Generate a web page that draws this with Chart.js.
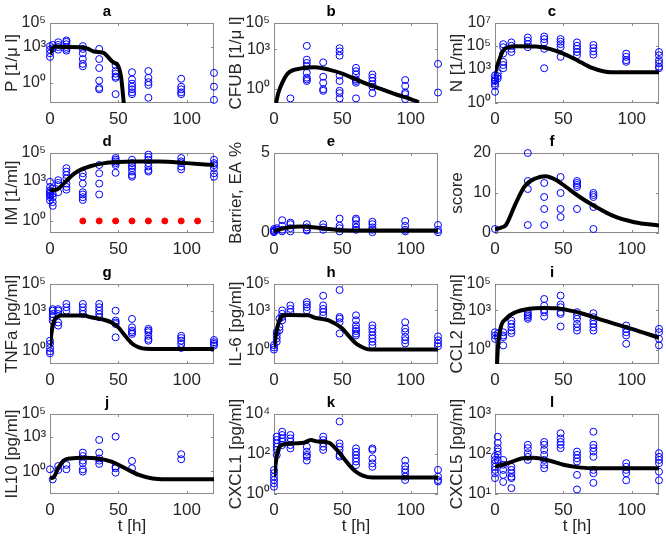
<!DOCTYPE html>
<html>
<head>
<meta charset="utf-8">
<script src="https://cdn.jsdelivr.net/npm/chart.js@4.4.1/dist/chart.umd.min.js"></script>
<style>
  html, body { margin: 0; padding: 0; background: #fff; }
  #fig { position: relative; width: 666px; height: 543px; overflow: hidden; }
  #fig canvas { position: absolute; }
</style>
</head>
<body>
<div id="fig"></div>
<script>
// x axis (time, hours) tick labels shared by all panels
const T_TICKS = [0, 50, 100];

// ---- a: P [1/ul] ----
const aObs = [[0,1200],[0,600],[0,300],[0,150],[2,1500],[2,800],[6,2500],[6,1500],[6,1000],[6,600],
  [12,3500],[12,2700],[12,1700],[12,1000],[12,700],[12,500],[24,1200],[24,700],[24,300],[24,100],[24,40],[24,25],
  [36,700],[36,100],[36,18],[36,1.6],[36,0.4],[36,0.3],[48,30],[48,10],[48,6],[48,3.5],[48,2.7],[48,0.12],
  [60,8],[60,2],[60,0.9],[60,0.5],[60,0.3],[60,0.17],[60,0.12],[72,10],[72,2.7],[72,1.2],[72,0.7],[72,0.06],
  [96,2.3],[96,0.5],[96,0.3],[96,0.17],[96,0.12],[120,7],[120,0.5],[120,0.04]];
const aT   = [0, 2, 4, 10, 24, 28, 32, 38, 40, 46, 50, 52, 53, 54];
const aFit = [250, 800, 1100, 1000, 930, 700, 420, 350, 280, 56, 25, 3.2, 0.32, 0.02];

// ---- b: CFUB [1/ul] ----
const bObs = [[12,0.18],[24,1800],[24,160],[24,90],[24,50],[24,16],[24,6.8],[24,5],[24,3.8],
  [36,100],[36,8],[36,2.8],[36,0.9],[36,0.68],[48,1200],[48,680],[48,320],[48,10],[48,3.8],[48,0.68],[48,0.45],[48,0.18],
  [60,38],[60,21],[60,12],[60,5],[60,3.8],[60,2.8],[60,0.18],[72,12],[72,6.8],[72,3.8],[72,2.1],[72,1.4],[72,0.45],
  [96,4.5],[96,1.6],[96,0.5],[96,0.38],[96,0.16],[120,76],[120,0.5]];
const bT   = [1.5, 3, 5, 10, 20, 30, 40, 50, 60, 70, 80, 90, 100, 106];
const bFit = [0.08, 0.4, 1.6, 14, 35, 43, 28, 14, 5, 1.9, 0.8, 0.34, 0.16, 0.09];

// ---- c: N [1/ml] ----
const cObs = [[0,260],[0,160],[0,100],[0,83],[0,49],[0,32],[0,9.5],[2,420],[2,220],[2,140],
  [6,1.4e5],[6,7.6e4],[6,2.1e4],[6,4000],[6,2100],[6,1100],[12,2e5],[12,1e5],[12,5.5e4],[12,2.9e4],
  [24,5.4e5],[24,2.8e5],[24,1.4e5],[24,7.6e4],[36,6.5e5],[36,3.9e5],[36,2e5],[36,5.5e4],[36,1100],
  [48,3.9e5],[48,2.3e5],[48,1.4e5],[48,7.6e4],[48,1.1e4],[60,2e5],[60,1e5],[60,5.5e4],[60,2.9e4],[60,1.5e4],
  [72,1.2e5],[72,6.3e4],[72,3.2e4],[72,1.7e4],[96,2.1e4],[96,1.1e4],[96,5600],[96,4000],
  [120,2.9e4],[120,1.5e4],[120,5600],[120,3000],[120,1500],[120,1100]];
const cT   = [0, 3, 6, 10, 15, 30, 40, 50, 60, 70, 80, 90, 120];
const cFit = [420, 5600, 4e4, 7.6e4, 9.3e4, 8.7e4, 5.5e4, 2.1e4, 5600, 1300, 580, 480, 480];

// ---- d: IM [1/ml] ----
const dObs = [[0,760],[0,320],[0,180],[0,130],[0,100],[0,76],[0,56],[0,32],[2,240],[2,100],[2,56],[2,24],[2,13],
  [6,1000],[6,630],[6,430],[6,130],[12,7600],[12,4300],[12,2400],[12,1300],[12,560],[12,320],[12,200],
  [24,3200],[24,1800],[24,560],[24,130],[24,89],[24,56],[24,35],[36,1.3e4],[36,3200],[36,560],[36,89],
  [48,4.3e4],[48,3.2e4],[48,2.4e4],[48,1.8e4],[48,1.3e4],[48,3500],[60,3.2e4],[60,1.8e4],[60,1.1e4],[60,7600],[60,4300],[60,2400],[60,1800],
  [72,7.6e4],[72,5e4],[72,3.2e4],[72,1.8e4],[72,1e4],[72,5600],[72,4300],[96,4.3e4],[96,2.4e4],[96,1.8e4],[96,1e4],[96,6300],
  [120,3.2e4],[120,1.8e4],[120,1.3e4],[120,7600],[120,3200],[120,1800]];
const dT   = [0, 5, 10, 15, 20, 30, 40, 50, 60, 80, 100, 120];
const dFit = [180, 200, 560, 1800, 4300, 1.1e4, 1.8e4, 2.2e4, 2.4e4, 2.4e4, 1.8e4, 1.3e4];
const dMarkT = [24, 36, 48, 60, 72, 84, 96, 108];
const dMarkV = [1, 1, 1, 1, 1, 1, 1, 1];

// ---- e: Barrier, EA % ----
const eObs = [[0,0.25],[0,0.15],[0,0.1],[0,0.05],[2,0.3],[2,0.2],[6,0.8],[6,0.45],[6,0.2],[6,0.1],
  [12,0.65],[12,0.55],[12,0.3],[12,0.1],[24,0.55],[24,0.35],[24,0.2],[24,0.15],[36,0.55],[36,0.35],[36,0.2],
  [48,0.9],[48,0.45],[48,0.3],[48,0.1],[60,0.9],[60,0.8],[60,0.55],[60,0.35],[60,0.2],
  [72,0.7],[72,0.55],[72,0.35],[72,0.2],[72,0.05],[96,0.75],[96,0.45],[96,0.2],[96,0.1],[120,0.5],[120,0.2],[120,0.05]];
const eT   = [0, 5, 10, 20, 30, 40, 50, 60, 120];
const eFit = [0.1, 0.25, 0.35, 0.4, 0.35, 0.25, 0.17, 0.15, 0.15];

// ---- f: score ----
const fObs = [[0,1],[24,20],[24,13],[24,11],[24,2],[36,12.5],[36,9],[36,6],[36,2],[48,14],[48,10],[48,6],[48,4],
  [60,13],[60,12.5],[60,12],[60,11.5],[60,6],[72,10],[72,9.5],[72,9],[72,6.5],[72,1]];
const fT   = [0, 4, 8, 15, 22, 30, 37, 45, 52, 62, 72, 87, 102, 120];
const fFit = [1, 1.3, 2, 7.3, 11.8, 13.7, 14.2, 13.2, 11.5, 9, 6.9, 4.2, 2.7, 1.9];

// ---- g: TNFa [pg/ml] ----
const gObs = [[0,5.6],[0,3.2],[0,1.6],[0,0.9],[0,0.63],[2,1300],[2,1000],[2,560],[2,320],[2,180],
  [6,1300],[6,1000],[6,560],[6,130],[6,76],[12,3200],[12,1800],[12,1000],[24,3200],[24,1800],[24,1000],[24,560],
  [36,3200],[36,1800],[36,1000],[36,560],[36,320],[48,1000],[48,180],[48,130],[48,100],[48,10],
  [60,240],[60,56],[60,32],[60,24],[60,18],[72,43],[72,32],[72,24],[72,13],[72,7.6],[72,5.6],
  [96,13],[96,8.9],[96,5.6],[96,3.2],[96,1.6],[120,6.3],[120,4.3],[120,3.2],[120,2.4]];
const gT   = [0, 1, 3, 6, 8, 20, 25, 30, 40, 45, 50, 55, 60, 65, 70, 80, 120];
const gFit = [2, 18, 180, 350, 430, 430, 430, 320, 200, 130, 56, 13, 3.5, 1.8, 1.4, 1.35, 1.35];

// ---- h: IL-6 [pg/ml] ----
const hObs = [[0,2.4],[0,1.6],[0,1.1],[2,24],[2,13],[2,7.6],[2,4.3],[4,240],[4,56],[4,32],
  [6,1000],[6,560],[6,320],[6,180],[12,2400],[12,1300],[12,760],[24,4300],[24,2800],[24,1800],[24,1000],
  [36,1.3e4],[36,2400],[36,1300],[36,760],[36,430],[48,3.5e4],[48,320],[48,240],[48,130],[48,18],
  [60,430],[60,180],[60,76],[60,43],[60,28],[60,18],[60,13],[72,76],[72,43],[72,24],[72,13],[72,7.6],[72,4.3],[72,2.4],
  [96,130],[96,43],[96,24],[96,10],[96,5.6],[96,3.2],[120,11],[120,5.6],[120,3.2],[120,2]];
const hT   = [0, 2, 4, 7, 10, 25, 30, 40, 50, 55, 60, 65, 70, 120];
const hFit = [1.6, 32, 180, 430, 450, 430, 280, 180, 43, 11, 3.2, 1.6, 1.1, 1.1];

// ---- i: CCL2 [pg/ml] ----
const iObs = [[0,21],[0,12],[0,6.6],[2,16],[2,8.9],[6,21],[6,12],[6,8.9],[6,2.1],[12,160],[12,91],[12,50],[12,28],[12,18],
  [24,710],[24,520],[24,400],[24,300],[24,220],[36,7200],[36,2200],[36,1100],[36,710],[36,330],
  [48,1.3e4],[48,2700],[48,1700],[48,710],[48,520],[48,58],[60,710],[60,400],[60,220],[60,91],[60,50],[60,28],
  [72,590],[72,300],[72,160],[72,91],[72,50],[72,28],[96,69],[96,38],[96,21],[96,12],[96,2.8],[120,38],[120,21],[120,6.6],[120,2.1]];
const iT   = [1.5, 2, 4, 8, 15, 25, 35, 45, 55, 65, 80, 100, 120];
const iFit = [0.08, 1, 40, 220, 710, 1300, 1500, 1400, 930, 520, 160, 38, 8];

// ---- j: IL10 [pg/ml] ----
const jObs = [[0,1.45],[2,0.19],[6,2.8],[6,1.26],[12,3.5],[12,1.45],[24,42],[24,21],[24,8.3],[24,4.9],[24,1.45],[24,0.91],
  [36,540],[36,42],[36,13],[36,8.3],[36,4.3],[48,1050],[48,2.5],[48,1.8],[48,0.74],[60,7.8],[60,1.8],[96,30],[96,11]];
const jT   = [0, 3, 6, 10, 15, 25, 35, 45, 55, 65, 75, 85, 120];
const jFit = [0.23, 0.33, 1.8, 8.3, 13, 15, 13, 6.8, 1.8, 0.47, 0.23, 0.2, 0.2];

// ---- k: CXCL1 [pg/ml] ----
const kObs = [[0,16],[0,11],[0,7.4],[0,5],[0,3.4],[0,2.3],[2,740],[2,500],[2,340],[2,230],[2,160],[2,89],
  [6,1300],[6,890],[6,600],[6,420],[6,280],[12,890],[12,600],[12,420],[12,280],[12,190],[24,230],[24,130],[24,89],[24,74],[24,47],
  [36,740],[36,500],[36,340],[36,230],[36,160],[48,4200],[48,340],[48,230],[48,160],[48,89],[48,74],
  [60,190],[60,130],[60,89],[60,60],[60,42],[60,28],[72,190],[72,160],[72,60],[72,34],[72,23],
  [96,47],[96,25],[96,17],[96,12],[96,7.4],[96,5],[120,16],[120,7.4],[120,5],[120,4.2]];
const kT   = [0, 2, 4, 7, 15, 22, 27, 32, 40, 45, 50, 55, 60, 65, 72, 120];
const kFit = [7.4, 74, 230, 300, 340, 370, 500, 420, 370, 190, 74, 28, 13, 8.3, 6.6, 6.6];

// ---- l: CXCL5 [pg/ml] ----
const lObs = [[0,89],[0,71],[0,59],[0,48],[0,40],[0,33],[0,25],[2,270],[2,190],[2,140],[2,115],[2,95],[2,71],
  [6,71],[6,54],[6,40],[6,30],[6,20],[12,48],[12,40],[12,33],[12,27],[12,25],[12,14],[24,170],[24,140],[24,105],[24,85],[24,71],
  [36,200],[36,170],[36,126],[36,95],[36,71],[36,54],[36,44],[48,330],[48,245],[48,200],[48,170],[48,140],
  [60,115],[60,95],[60,78],[60,65],[60,30],[60,13],[72,360],[72,170],[72,140],[72,115],[72,85],[72,40],[72,33],[72,19],
  [96,59],[96,48],[96,40],[96,33],[96,22],[120,105],[120,85],[120,71],[120,59],[120,36],[120,22]];
const lT   = [0, 10, 20, 28, 40, 50, 60, 70, 120];
const lFit = [48, 60, 78, 81, 68, 54, 47, 44, 44];

const LOG_TICKS = [1, 1e3, 1e5];

const PANELS = [
  { title: 'a', yTitle: 'P [1/\u03bc l]',   log: true,  min: 0.022, max: 1e5, ticks: LOG_TICKS, obs: aObs, t: aT, fit: aFit },
  { title: 'b', yTitle: 'CFUB [1/\u03bc l]', log: true, min: 0.08,  max: 1e5, ticks: LOG_TICKS, obs: bObs, t: bT, fit: bFit },
  { title: 'c', yTitle: 'N [1/ml]',      log: true,  min: 1,     max: 1e7, ticks: [1, 1e3, 1e5, 1e7], obs: cObs, t: cT, fit: cFit },
  { title: 'd', yTitle: 'IM [1/ml]',     log: true,  min: 0.13,  max: 1e5, ticks: LOG_TICKS, obs: dObs, t: dT, fit: dFit, markT: dMarkT, markV: dMarkV },
  { title: 'e', yTitle: 'Barrier, EA %', log: false, min: 0,     max: 5,   ticks: [0, 5],     obs: eObs, t: eT, fit: eFit },
  { title: 'f', yTitle: 'score',         log: false, min: 0,     max: 20,  ticks: [0, 10, 20], obs: fObs, t: fT, fit: fFit },
  { title: 'g', yTitle: 'TNFa [pg/ml]',  log: true,  min: 0.1,   max: 1e5, ticks: LOG_TICKS, obs: gObs, t: gT, fit: gFit },
  { title: 'h', yTitle: 'IL-6 [pg/ml]',  log: true,  min: 0.09,  max: 1e5, ticks: LOG_TICKS, obs: hObs, t: hT, fit: hFit },
  { title: 'i', yTitle: 'CCL2 [pg/ml]',  log: true,  min: 0.08,  max: 1e5, ticks: LOG_TICKS, obs: iObs, t: iT, fit: iFit },
  { title: 'j', yTitle: 'IL10 [pg/ml]',  log: true,  min: 0.01,  max: 1e5, ticks: LOG_TICKS, obs: jObs, t: jT, fit: jFit },
  { title: 'k', yTitle: 'CXCL1 [pg/ml]', log: true,  min: 1,     max: 1e4, ticks: [1, 100, 1e4], obs: kObs, t: kT, fit: kFit },
  { title: 'l', yTitle: 'CXCL5 [pg/ml]', log: true,  min: 10,    max: 1e3, ticks: [10, 100, 1e3], obs: lObs, t: lT, fit: lFit },
];

const FONT = "'Liberation Sans', Arial, Helvetica, sans-serif";
const TXT = '#262626';
const BOX = '#8a8a8a';
const COL_X = [0, 224, 445];
const ROW_Y = [0, 130, 261, 391];

const SUP = { '0': '\u2070', '1': '\u00b9', '2': '\u00b2', '3': '\u00b3', '4': '\u2074',
  '5': '\u2075', '6': '\u2076', '7': '\u2077', '8': '\u2078', '9': '\u2079', '-': '\u207b' };
const powLabel = (v) => '10' + String(Math.round(Math.log10(v))).split('').map(c => SUP[c]).join('');

// MATLAB-like axes box with inward ticks on all four sides
const boxPlugin = {
  id: 'matlabBox',
  beforeDatasetsDraw(chart) {
    const { ctx, chartArea: a, scales: { x, y } } = chart;
    ctx.save();
    ctx.strokeStyle = BOX;
    ctx.lineWidth = 1;
    ctx.strokeRect(a.left + 0.5, a.top + 0.5, a.right - a.left - 1, a.bottom - a.top - 1);
    ctx.beginPath();
    x.ticks.forEach(t => {
      const px = Math.round(x.getPixelForValue(t.value)) + 0.5;
      ctx.moveTo(px, a.bottom); ctx.lineTo(px, a.bottom - 3);
      ctx.moveTo(px, a.top); ctx.lineTo(px, a.top + 3);
    });
    y.ticks.forEach(t => {
      const py = Math.round(y.getPixelForValue(t.value)) + 0.5;
      ctx.moveTo(a.left, py); ctx.lineTo(a.left + 3, py);
      ctx.moveTo(a.right, py); ctx.lineTo(a.right - 3, py);
    });
    ctx.stroke();
    ctx.restore();
  },
};

const fig = document.getElementById('fig');

PANELS.forEach((p, idx) => {
  const col = idx % 3, row = Math.floor(idx / 3);
  const bottomRow = row === 3;
  const cv = document.createElement('canvas');
  cv.width = 222;
  cv.height = bottomRow ? 149 : 129;
  cv.style.left = COL_X[col] + 'px';
  cv.style.top = ROW_Y[row] + 'px';
  fig.appendChild(cv);

  const datasets = [{
    data: p.t.map((x, i) => ({ x, y: p.fit[i] })),
    showLine: true,
    borderColor: '#000',
    borderWidth: 4,
    pointRadius: 0,
    cubicInterpolationMode: 'monotone',
    order: 0,
  }];
  if (p.markT) {
    datasets.push({
      data: p.markT.map((x, i) => ({ x, y: p.markV[i] })),
      pointRadius: 3,
      backgroundColor: '#ff0000',
      borderColor: '#ff0000',
      borderWidth: 1,
      clip: false,
      order: 1,
    });
  }
  datasets.push({
    data: p.obs.map(([x, y]) => ({ x, y })),
    pointRadius: 3.5,
    borderColor: '#0000ff',
    backgroundColor: 'rgba(0,0,0,0)',
    borderWidth: 1,
    clip: false,
    order: 2,
  });

  new Chart(cv, {
    type: 'scatter',
    data: { datasets },
    options: {
      responsive: false,
      animation: false,
      devicePixelRatio: 1,
      layout: { padding: { right: 8 } },
      plugins: {
        legend: { display: false },
        tooltip: { enabled: false },
        title: {
          display: true,
          text: p.title,
          color: '#000',
          font: { size: 15, weight: 'bold', family: FONT },
          padding: { top: 3, bottom: 2 },
        },
      },
      scales: {
        x: {
          type: 'linear',
          min: 0,
          max: 120,
          grid: { display: false, drawTicks: false },
          border: { display: false },
          ticks: { color: TXT, font: { size: 17, family: FONT }, padding: 6, maxRotation: 0, autoSkip: false },
          afterBuildTicks: (s) => { s.ticks = T_TICKS.map(v => ({ value: v })); },
          afterFit: (s) => { s.height = bottomRow ? 46 : 26; },
          title: {
            display: bottomRow,
            text: 't [h]',
            color: TXT,
            font: { size: 17, family: FONT },
            padding: { top: 0, bottom: 3 },
          },
        },
        y: {
          type: p.log ? 'logarithmic' : 'linear',
          min: p.min,
          max: p.max,
          grid: { display: false, drawTicks: false },
          border: { display: false },
          ticks: {
            color: TXT,
            font: { size: 16, family: FONT },
            padding: 4,
            autoSkip: false,
            callback: (v) => (p.log ? powLabel(v) : String(v)),
          },
          afterBuildTicks: (s) => { s.ticks = p.ticks.map(v => ({ value: v })); },
          afterFit: (s) => { s.width = 50; },
          title: {
            display: true,
            text: p.yTitle,
            color: TXT,
            font: { size: 17, family: FONT },
            padding: { top: 2, bottom: 0 },
          },
        },
      },
    },
    plugins: [boxPlugin],
  });
});
</script>
</body>
</html>
